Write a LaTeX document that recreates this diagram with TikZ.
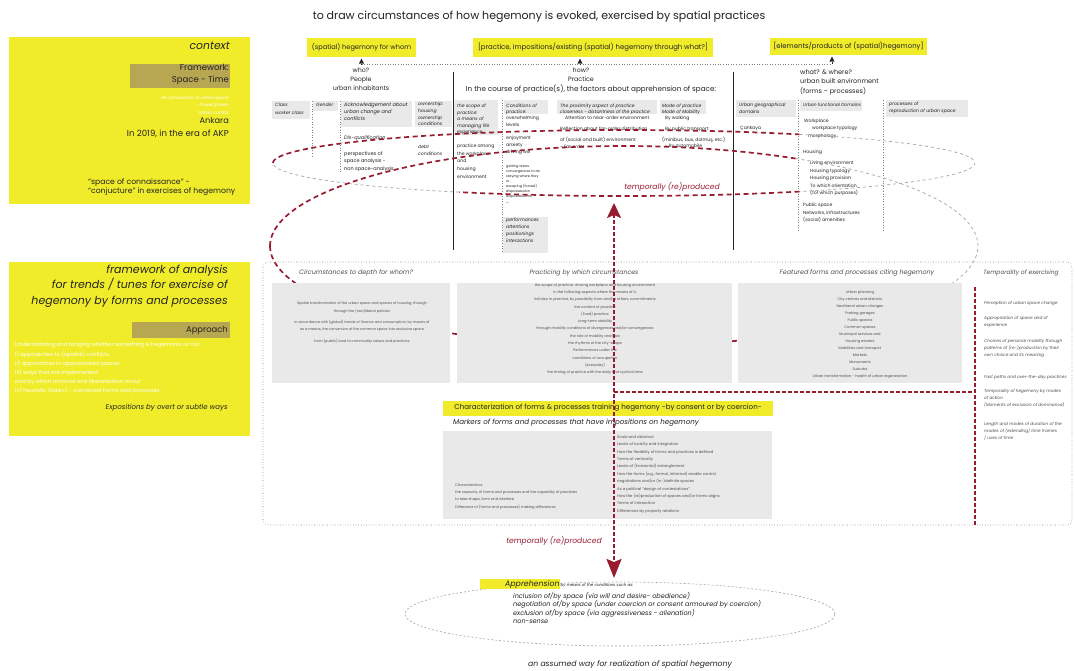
\documentclass[tikz,border=0pt]{standalone}
\usepackage{fontspec}
\setmainfont{Poppins}
\usetikzlibrary{arrows.meta,shapes.geometric}
\definecolor{hy}{RGB}{240,236,42}
\definecolor{olive}{RGB}{183,166,82}
\definecolor{cellgray}{RGB}{233,233,233}
\definecolor{dred}{RGB}{152,28,48}
\definecolor{lgray}{RGB}{165,165,165}
\definecolor{ink}{RGB}{35,35,35}
\newcommand{\fsz}[2]{\fontsize{#1}{#2}\selectfont}
\begin{document}
\begin{tikzpicture}[x=1pt,y=-1pt,
  lbl/.style={inner sep=0pt, text=ink},
  panel/.style={fill=hy, inner sep=0pt, anchor=north west},
  tagbox/.style={fill=olive, inner sep=0pt, anchor=north west},
  hdr/.style={fill=hy, inner sep=0pt, text=ink, font=\fsz{6.9}{8}},
  celltitle/.style={inner sep=0pt, anchor=north west, align=left, text=ink, font=\fsz{4.6}{6.5}\itshape},
  cellbody/.style={inner sep=0pt, anchor=north west, align=left, text=ink, font=\fsz{4.6}{7}},
  tiny/.style={inner sep=0pt, text=ink!80, align=center, anchor=north},
  sidenote/.style={inner sep=0pt, anchor=north west, align=left, text=ink!80, font=\fsz{4.2}{7}\itshape},
  sep/.style={draw=gray, dotted, line width=0.6pt},
  reddash/.style={draw=dred, line width=1.7pt, dash pattern=on 5pt off 3.5pt},
  redaxis/.style={draw=dred, line width=2pt, dash pattern=on 3.5pt off 2.5pt},
  graydash/.style={draw=lgray, line width=0.7pt, dash pattern=on 3pt off 3pt},
]
\useasboundingbox (0,0) rectangle (1075,671);
\fill[white] (0,0) rectangle (1075,671);

% ---------- title ----------
\node[lbl, font=\fsz{11}{13}] (title) at (539,17)
  {to draw circumstances of how hegemony is evoked, exercised by spatial practices};

% ---------- context panel ----------
\node[panel, minimum width=241pt, minimum height=167pt] (ctx) at (9,37) {};
\node[lbl, anchor=east, font=\fsz{10.8}{12}\itshape] (ctxhead) at (230,46) {context};
\node[tagbox, minimum width=100pt, minimum height=24pt] (fw) at (130,64) {};
\node[lbl, anchor=north east, align=right, font=\fsz{8.5}{12}] (fwt) at (229,64.5) {Framework:\\Space - Time};
\node[lbl, anchor=north east, align=right, text=white, font=\fsz{4.4}{7.5}\itshape] (fwsub) at (229,95.5)
  {Re-production of urban space\\- Power/power\\Urban control};
\node[lbl, anchor=east, font=\fsz{8.2}{9}] (ank) at (229,121) {Ankara};
\node[lbl, anchor=east, font=\fsz{8.6}{9}] (era) at (229,134) {In 2019, in the era of AKP};
\node[lbl, anchor=north west, align=left, font=\fsz{7.7}{9.5}] (conn) at (88,178.3)
  {``space of connaissance'' -\\``conjucture'' in exercises of hegemony};

% ---------- analysis panel ----------
\node[panel, minimum width=241pt, minimum height=174pt] (fwk) at (9,262) {};
\node[lbl, anchor=north east, align=right, font=\fsz{11}{15.5}\itshape] (fwkhead) at (228,264.5)
  {framework of analysis\\for trends / tunes for exercise of\\hegemony by forms and  processes};
\node[tagbox, minimum width=98pt, minimum height=16pt] (appbox) at (132,322) {};
\node[lbl, anchor=east, font=\fsz{8.4}{10}] (app) at (228,330) {Approach};
\node[lbl, anchor=north west, align=left, text=white, font=\fsz{5.4}{9.2}] (applist) at (15,342.5)
  {Understanding and ranging whether something is hegemonic or not\\
   i) approaches to (spatial) conflicts\\
   ii) approaches to appropriated spaces\\
   iii) ways that are implemented\\
   and by which removal and liberalisation occur\\
   iv) heuristic (basic) - conceived forms and processes -};
\node[lbl, anchor=east, font=\fsz{7}{8}\itshape] (expo) at (228,408) {Expositions by overt or subtle ways};

% ---------- column headers ----------
\node[hdr, font=\fsz{6.6}{8}, minimum width=109pt, minimum height=19pt] (hwho) at (361.5,47.5) {(spatial) hegemony for whom};
\node[hdr, minimum width=240pt, minimum height=19pt] (hhow) at (593,47.5) {[practice, impositions/existing (spatial) hegemony through what?]};
\node[hdr, minimum width=157pt, minimum height=17pt] (hwhat) at (848.5,46.5) {[elements/products of (spatial)hegemony]};

\coordinate (dl) at (361.5,64);
\coordinate (dm) at (580,64);
\coordinate (dr) at (832,64);
\draw[sep] (dl) -- (dr);
\draw[ink, -{Triangle[length=5pt,width=5pt]}] (dl) -- ([yshift=-1.5pt]dl |- hwho.south);
\draw[ink, -{Triangle[length=5pt,width=5pt]}] (dm) -- ([yshift=-1.5pt]dm |- hhow.south);
\draw[ink, -{Triangle[length=5pt,width=5pt]}] (dr) -- ([yshift=-1.5pt]dr |- hwhat.south);

\node[lbl, anchor=north, align=center, font=\fsz{6.3}{9}] (who) at (361,67.8) {who?\\People\\urban inhabitants};
\node[lbl, anchor=north, align=center, font=\fsz{6.3}{9}] (how) at (581,67.8) {how?\\Practice};
\node[lbl, font=\fsz{7.2}{8}] (course) at (591,89)
  {In the course of practice(s), the factors about apprehension of space:};
\node[lbl, anchor=north west, align=left, font=\fsz{6.5}{9.3}] (what) at (800,69.5)
  {what? \& where?\\urban built environment\\(forms -- processes)};

\draw[ink, line width=0.7pt] (453,72) -- (453,250);
\draw[ink, line width=0.7pt] (733,72) -- (733,250);

% ---------- people columns ----------
\fill[cellgray] (272,101) rectangle (310,119);
\node[celltitle, font=\fsz{4.6}{8}\itshape] (tClass) at (275,102.8) {Class\\worker class};
\fill[cellgray] (313,101) rectangle (338,111);
\node[celltitle] (tGender) at (316,102.8) {Gender};
\draw[sep] (312,101) -- (312,156);
\draw[sep] (340,101) -- (340,172);
\fill[cellgray] (341,101) rectangle (412,127);
\node[celltitle, font=\fsz{5}{7}\itshape] (tAck) at (344,102.5) {Acknowledgement about\\urban change  and\\conflicts};
\node[cellbody, font=\fsz{5}{7}\itshape] (tDis) at (344,135.6) {Dis-qualification};
\node[cellbody, font=\fsz{5}{7.2}] (tPersp) at (344,151.6) {perspectives of\\space analysis -\\non space-analysis};
\fill[cellgray] (415,101) rectangle (452,127);
\node[celltitle, font=\fsz{4.6}{6.7}\itshape] (tOwn) at (418,102) {ownership:\\housing\\ownership\\conditions};
\node[celltitle, font=\fsz{4.6}{7}\itshape] (tDebt) at (418,144.8) {debt\\conditions};

% ---------- practice columns ----------
\fill[cellgray] (454,100) rectangle (498,135);
\node[celltitle] (tScope) at (457,103.8) {the scope of\\practice:\\a means of\\managing life\\experience};
\node[cellbody, font=\fsz{4.6}{7.7}] (tAmong) at (457,143.8) {practice among\\the workplace\\and\\housing\\environment};
\draw[sep] (502,100) -- (502,253);
\fill[cellgray] (504,100) rectangle (548,114);
\node[celltitle, font=\fsz{4.6}{6}\itshape] (tCond) at (506,103.8) {Conditions of\\practice:};
\node[cellbody] (tOver) at (506,115.8) {overwhelming\\levels};
\node[cellbody] (tEnjoy) at (506,135.8) {enjoyment\\anxiety\\driving will};
\node[cellbody, font=\fsz{3.4}{5}] (tGet) at (506,164.6)
  {getting areas\\convergences to do\\staying where they\\or\\escaping (forced)\\dispossession\\dispossessions};
\node[cellbody] (tDots) at (506,203) {...};
\fill[cellgray] (503,217) rectangle (548,253);
\node[celltitle, font=\fsz{4.6}{7}\itshape] (tPerf) at (506,217.8) {performances\\attentions\\positionings\\interactions};
\fill[cellgray] (557,100) rectangle (657,114);
\node[celltitle, font=\fsz{4.6}{6}\itshape] (tProx) at (560,103.8) {The proximity aspect of practice\\closeness - distantness of the practice};
\node[cellbody] (tAttn) at (565,115.8) {Attention to near-order environment};
\node[cellbody] (tRefl) at (560,126.8) {Reflection about far-order distribution};
\node[cellbody] (tSoc) at (560,136.8) {of (social and built) environment\\- Far order};
\fill[cellgray] (660,100) rectangle (706,114);
\node[celltitle, font=\fsz{4.6}{6}\itshape] (tMode) at (662,103.8) {Mode of practice\\Mode of Mobility};
\node[cellbody] (tWalk) at (665,115.8) {By walking};
\node[cellbody] (tPub) at (665,126.8) {By public transport};
\node[cellbody] (tDol) at (662,136.8) {(minibus, bus, dolmuş, etc.)};
\node[cellbody] (tAuto) at (665,143.8) {- By automobile};

% ---------- built environment columns ----------
\fill[cellgray] (736,100) rectangle (796,117);
\node[celltitle, font=\fsz{4.6}{6.8}\itshape] (tGeo) at (739,102.8) {Urban geographical\\domains};
\node[cellbody] (tCank) at (740,125.8) {Çankaya};
\draw[sep] (798,100) -- (798,232);
\fill[cellgray] (800,100) rectangle (862,111);
\node[celltitle, font=\fsz{4.4}{6}\itshape] (tFunc) at (803,102.8) {Urban functional Domains};
\node[cellbody] (tWork) at (804,118.8) {Workplace};
\node[cellbody] (tWtyp) at (812,125.8) {workplace typology};
\node[cellbody] (tMorph) at (808,133.8) {morphology};
\node[cellbody] (tHous) at (803,149.8) {Housing};
\node[cellbody, font=\fsz{4.6}{7.6}] (tLiving) at (810,160.8)
  {Living environment\\Housing typology\\Housing provision\\To which orientation\\(for which purposes)};
\node[cellbody, font=\fsz{4.6}{7.5}] (tPublic) at (803,202.8) {Public space\\Networks, infrastructures\\(social) amenities};
\draw[sep] (883,100) -- (883,232);
\fill[cellgray] (886,100) rectangle (968,117);
\node[celltitle, font=\fsz{4.6}{7}\itshape] (tProc) at (889,101.8) {processes of\\reproduction of urban space};

% ---------- loops of (re)production ----------
\draw[reddash]  plot[domain=180:300, samples=60] ({624+351*cos(\x)},{163+33*sin(\x)});
\draw[graydash] plot[domain=-60:60, samples=40] ({624+351*cos(\x)},{163+33*sin(\x)});
\draw[reddash]  plot[domain=60:118, samples=40] ({624+351*cos(\x)},{163+33*sin(\x)});
\draw[graydash] plot[domain=118:180, samples=30] ({624+351*cos(\x)},{163+33*sin(\x)});
\draw[reddash]  plot[domain=180:299, samples=60] ({624+354*cos(\x)},{246+100*sin(\x)});
\draw[graydash] plot[domain=299:402, samples=50] ({624+354*cos(\x)},{246+100*sin(\x)});
\draw[reddash]  plot[domain=42:180, samples=70] ({624+354*cos(\x)},{246+100*sin(\x)});
\node[lbl, text=dred, font=\fsz{7.6}{9}\itshape] (tre1) at (672,187) {temporally (re)produced};

% ---------- analysis frame ----------
\draw[sep, rounded corners=5pt] (263,262) rectangle (1072,525);
\node[lbl, text=ink!80, font=\fsz{6.4}{8}\itshape] (c1) at (356,273) {Circumstances to depth for whom?};
\node[lbl, text=ink!80, font=\fsz{6.2}{8}\itshape] (c2) at (584,273) {Practicing by which circumstances};
\node[lbl, text=ink!80, font=\fsz{6.4}{8}\itshape] (c3) at (857,273) {Featured forms and processes citing hegemony};
\node[lbl, text=ink!80, font=\fsz{6}{8}\itshape] (c4) at (1021,273) {Temporality of exercising};

\fill[cellgray] (272,283) rectangle (450,383);
\fill[cellgray] (457,283) rectangle (732,383);
\fill[cellgray] (738,283) rectangle (962,383);

\node[tiny, font=\fsz{3.5}{8}] (b1a) at (362,301.3)
  {Spatial transformation of the urban space and spaces of housing, through\\through the (neo)liberal policies};
\node[tiny, font=\fsz{3.5}{6.5}] (b1b) at (362,320.3)
  {in accordance with (global) trends of finance and consumption, by means of\\as a means, the conversion of the common space into exclusive space};
\node[tiny, font=\fsz{3.5}{6.5}] (b1c) at (362,339.3) {from (public) land to commodity values and practices};

\node[tiny, font=\fsz{3.6}{7.3}] (b2) at (595,283.2)
  {the scope of practice: Among workplace and housing environment\\
   in the following aspects where the means of it,\\
   fall also in practice, by possibility from and/or others, commitments\\
   the content of practice\\
   (lived) practice\\
   Long-term stability\\
   through mobility conditions of divergences and/or convergences\\
   the role of mobility and how\\
   the rhythms of the city-scape\\
   Performances under the\\
   conditions of occupation\\
   (everyday)\\
   the timing of practice with the daily and cyclical time};

\node[tiny, font=\fsz{3.6}{7}] (b3) at (860,290.3)
  {Urban planning\\
   City centres and districts\\
   Neoliberal urban changes\\
   Parking garages\\
   Public spaces\\
   Common spaces\\
   Municipal services and\\
   Housing estates\\
   Mobilities and transport\\
   Markets\\
   Monuments\\
   Suburbs\\
   Urban transformation - health of urban regeneration};

\node[sidenote] (r1) at (984,300.8) {Perception of urban space change};
\node[sidenote] (r2) at (984,315.8) {Appropriation of space and of\\experience};
\node[sidenote] (r3) at (984,338.8) {Choices of personal mobility through\\patterns of (re-)production by their\\own choice and its meaning};
\node[sidenote] (r4) at (984,374.8) {Fast paths and over-the-day practices};
\node[sidenote] (r5) at (984,388.8) {Temporality of hegemony by modes\\of action\\(Moments of exclusion of dominance)};
\node[sidenote] (r6) at (984,421.8) {Length and modes of duration of the\\modes of (extending) time frames\\/ uses of time};

% ---------- characterization ----------
\node[fill=hy, minimum width=330pt, minimum height=15pt, inner sep=0pt, text=ink, font=\fsz{7.1}{8}] (char) at (608,408)
  {Characterization of forms \& processes training hegemony -by consent or by coercion-};
\node[lbl, anchor=west, font=\fsz{7.1}{9}\itshape] (markers) at (453,423)
  {Markers of forms and processes that have impositions on hegemony};
\fill[cellgray] (443,431) rectangle (772,519);
\node[lbl, anchor=north west, align=left, text=ink!80, font=\fsz{3.6}{7.3}] (charL) at (455,483.3)
  {Characteristics\\
   the capacity of forms and processes and the capability of practices\\
   to take shape, form and interfere\\
   Difference of (forms and processes) making differences};
\node[lbl, anchor=north west, align=left, text=ink!80, font=\fsz{3.8}{7.4}] (charR) at (617,435.2)
  {Scale and distance\\
   Levels of locality and integration\\
   How the flexibility of forms and practices is defined\\
   Terms of verticality\\
   Levels of (horizontal) entanglement\\
   How the forms (e.g., formal, informal) enable control\\
   negotiations and/or (in-)definite spaces\\
   As a political ``design of contestations''\\
   How the (re)production of spaces and/or forms aligns\\
   Terms of interaction\\
   Differences by property relations};

% ---------- red axis of (re)production ----------
\coordinate (axTop) at (614,203);
\coordinate (axBot) at (614,578);
\draw[redaxis, {Stealth[length=15pt,width=14pt,inset=3pt]}-{Stealth[length=19pt,width=15pt,inset=3pt]}] (axTop) -- (axBot);
\coordinate (hL) at (614,392);
\coordinate (hR) at (975,392);
\draw[redaxis] (hL) -- (hR);
\coordinate (vT) at (975,287);
\coordinate (vB) at (975,525);
\draw[redaxis] (vT) -- (vB);
\node[lbl, text=dred, font=\fsz{7.6}{9}\itshape] (tre2) at (554,541) {temporally (re)produced};

% ---------- apprehension ----------
\node[draw=lgray, dash pattern=on 2pt off 2pt, line width=0.6pt, ellipse, minimum width=430pt, minimum height=64pt, inner sep=0pt] (appr) at (620,614) {};
\fill[hy] (480,579) rectangle (560,589);
\node[lbl, anchor=west, font=\fsz{7.8}{9}\itshape] (apprT) at (505,584.5) {Apprehension};
\node[lbl, anchor=base west, font=\fsz{4}{5}\itshape] (apprS) at (apprT.base east) {\,by means of the conditions such as:};
\node[lbl, anchor=north west, align=left, font=\fsz{6.5}{8.4}\itshape] (apprL) at (513,592)
  {inclusion of/by space (via will and desire- obedience)\\
   negotiation of/by space (under coercion or consent armoured by coercion)\\
   exclusion of/by space (via aggressiveness - alienation)\\
   non-sense};
\node[lbl, font=\fsz{7.7}{9}\itshape] (cap) at (630,665) {an assumed way for realization of spatial hegemony};
\end{tikzpicture}
\end{document}
